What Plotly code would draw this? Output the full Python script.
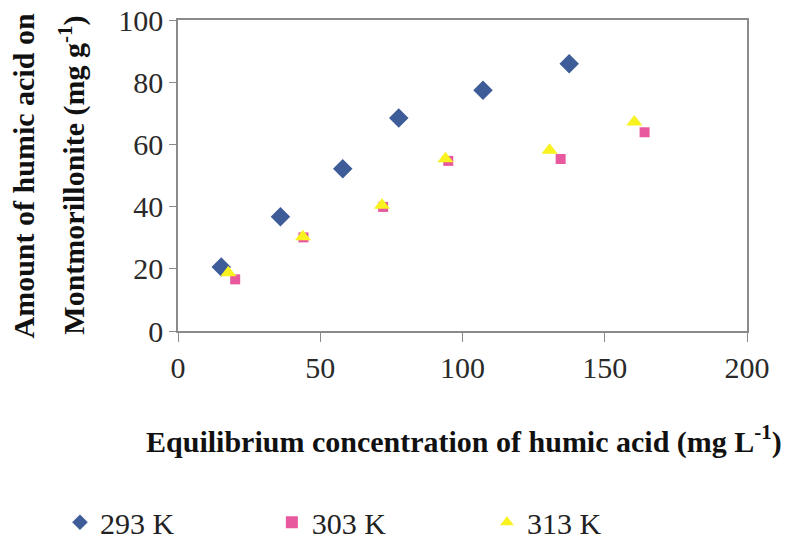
import plotly.graph_objects as go

x_293 = [15.2, 36.0, 57.9, 77.6, 107.2, 137.5]
y_293 = [20.6, 36.7, 52.2, 68.5, 77.4, 85.9]
x_303 = [20.1, 44.1, 72.1, 95.0, 134.5, 164.0]
y_303 = [16.6, 30.1, 39.9, 54.7, 55.3, 63.9]
x_313 = [17.7, 43.9, 71.7, 94.0, 130.6, 160.4]
y_313 = [18.7, 30.3, 40.4, 55.4, 58.1, 67.2]
names = ["293 K", "303 K", "313 K"]

serif = "Liberation Serif, Times New Roman, serif"
fig = go.Figure()
fig.add_trace(go.Scatter(x=x_293, y=y_293, mode="markers", name=names[0], legend="legend",
                         marker=dict(symbol="diamond", size=15, color="#3D5C98")))
fig.add_trace(go.Scatter(x=x_303, y=y_303, mode="markers", name=names[1], legend="legend2",
                         marker=dict(symbol="square", size=10, color="#E8589E")))
fig.add_trace(go.Scatter(x=x_313, y=y_313, mode="markers", name=names[2], legend="legend3",
                         marker=dict(symbol="triangle-up", size=14, color="#F8F21E")))

axcommon = dict(showgrid=False, zeroline=False, showline=True, linecolor="#8a8a8a",
                linewidth=1.5, mirror=True, ticks="outside", tickcolor="#8a8a8a",
                tickfont=dict(family=serif, size=30, color="#2a2a2a"))
fig.update_xaxes(range=[0, 200], tickvals=[0, 50, 100, 150, 200], ticklen=9, **axcommon)
fig.update_yaxes(range=[0, 100], tickvals=[0, 20, 40, 60, 80, 100], ticklen=7, **axcommon)

fig.add_annotation(text="<b>Equilibrium concentration of humic acid (mg L<sup>-1</sup>)</b>",
                   xref="paper", yref="paper", x=0.5, y=-0.35, xanchor="center", yanchor="middle",
                   showarrow=False, font=dict(family=serif, size=30, color="#111"), xshift=1)
fig.add_annotation(text="<b>Amount of humic acid on</b>", xref="paper", yref="paper",
                   x=-0.2707, y=0.5, xanchor="center", yanchor="middle", textangle=-90,
                   showarrow=False, font=dict(family=serif, size=30, color="#111"))
fig.add_annotation(text="<b>Montmorillonite (mg g<sup>-1</sup>)</b>", xref="paper", yref="paper",
                   x=-0.186, y=0.5, xanchor="center", yanchor="middle", textangle=-90,
                   showarrow=False, font=dict(family=serif, size=30, color="#111"))

leg = dict(orientation="h", xref="container", yref="container", y=0.04,
           xanchor="left", yanchor="middle", itemsizing="constant",
           font=dict(family=serif, size=30, color="#222"), bgcolor="rgba(0,0,0,0)")
fig.update_layout(
    width=788, height=544,
    margin=dict(l=178, r=41, t=20, b=213, autoexpand=False),
    paper_bgcolor="white", plot_bgcolor="white",
    showlegend=True,
    legend=dict(x=0.0761, **leg),
    legend2=dict(x=0.345, **leg),
    legend3=dict(x=0.618, **leg),
)
fig.write_html("out.html", post_script="document.body.style.margin='0';",
               config={"displayModeBar": False})
